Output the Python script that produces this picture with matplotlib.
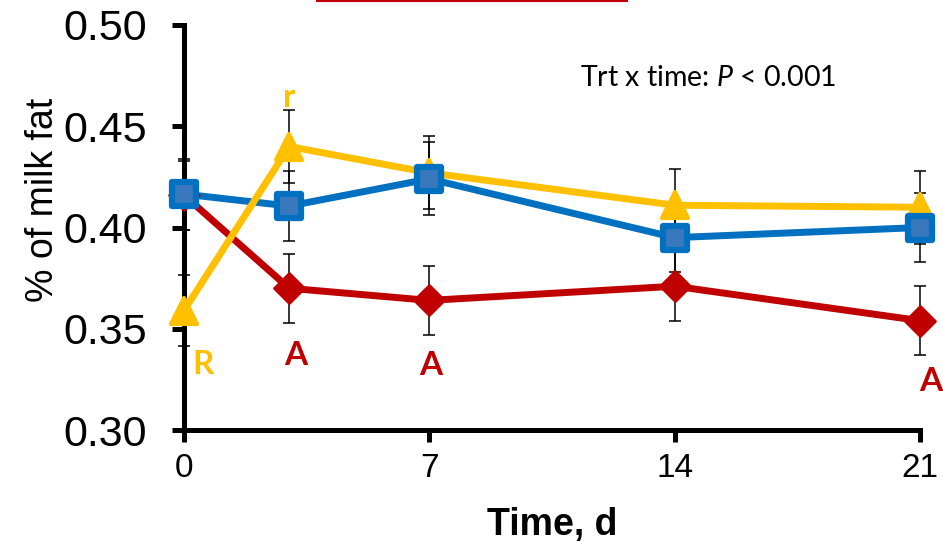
import matplotlib
matplotlib.use("Agg")
import matplotlib.pyplot as plt
from matplotlib.lines import Line2D
from matplotlib.markers import MarkerStyle

# data
days = [0, 3, 7, 14, 21]
blue_mean = [0.4165, 0.4106, 0.424, 0.395, 0.400]
blue_sem = [0.0175, 0.0175, 0.018, 0.017, 0.017]
yellow_mean = [0.359, 0.440, 0.427, 0.411, 0.410]
yellow_sem = [0.0175, 0.018, 0.018, 0.018, 0.018]
red_mean = [0.416, 0.370, 0.364, 0.371, 0.354]
red_sem = [0.017, 0.017, 0.017, 0.017, 0.017]

x_ticks = [0, 7, 14, 21]
y_ticks = [0.30, 0.35, 0.40, 0.45, 0.50]
y_ticklabels = ["0.30", "0.35", "0.40", "0.45", "0.50"]

# significance letters
letter_text = ["r", "R", "A", "A", "A"]
letter_x = [3.0, 0.55, 3.2, 7.05, 21.3]
letter_y = [0.464, 0.3325, 0.337, 0.332, 0.324]
letter_color = ["#FFC000", "#FFC000", "#C00000", "#C00000", "#C00000"]

BLUE, BLUE_FILL = "#0070C0", "#3A78BE"
YELLOW = "#FFC000"
RED = "#C00000"

plt.rcParams["mathtext.fontset"] = "custom"
plt.rcParams["mathtext.it"] = "Lato:italic"
plt.rcParams["mathtext.rm"] = "Lato"

fig = plt.figure(figsize=(9.43, 5.44), dpi=100)
ax = fig.add_axes([184 / 943, 1 - 430 / 544, 736 / 943, 405 / 544])

# lines (red under blue under yellow)
ax.plot(days, red_mean, color=RED, lw=5, zorder=2, solid_joinstyle="round")
ax.plot(days, blue_mean, color=BLUE, lw=5, zorder=3, solid_joinstyle="round")
ax.plot(days, yellow_mean, color=YELLOW, lw=5, zorder=4, solid_joinstyle="round")

# error bars
for m, s in [(red_mean, red_sem), (blue_mean, blue_sem), (yellow_mean, yellow_sem)]:
    ax.errorbar(days, m, yerr=s, fmt="none", ecolor="black", elinewidth=1.1,
                capsize=4.5, capthick=1.1, zorder=5, clip_on=False)

# markers on top
ax.plot(days, red_mean, ls="none", marker=MarkerStyle("D", joinstyle="round"), ms=15,
        mfc=RED, mec=RED, mew=2, zorder=6, clip_on=False)
ax.plot(days, yellow_mean, ls="none", marker=MarkerStyle("^", joinstyle="round"), ms=19,
        mfc=YELLOW, mec=YELLOW, mew=3, zorder=7, clip_on=False)
ax.plot(days, blue_mean, ls="none", marker=MarkerStyle("s", joinstyle="round"), ms=17.5,
        mfc=BLUE_FILL, mec=BLUE, mew=4.5, zorder=8, clip_on=False)

for t, x, y, c in zip(letter_text, letter_x, letter_y, letter_color):
    ax.text(x, y, t, color=c, fontsize=24, fontweight="bold", family="Lato",
            ha="center", va="center", zorder=9)

ax.text(0.712, 0.869, "Trt x time: $P$ < 0.001", transform=ax.transAxes,
        fontsize=20.5, family="Lato", ha="center", va="center")

ax.set_xlim(0, 21)
ax.set_ylim(0.30, 0.50)
ax.set_xticks(x_ticks)
ax.set_yticks(y_ticks)
ax.set_yticklabels(y_ticklabels)

for side in ["top", "right"]:
    ax.spines[side].set_visible(False)
for side in ["left", "bottom"]:
    ax.spines[side].set_linewidth(3.6)

ax.tick_params(axis="both", direction="out", length=8.5, width=3.6)
ax.tick_params(axis="y", labelsize=31, pad=18)
ax.tick_params(axis="x", labelsize=24, pad=8)
for lab in ax.get_xticklabels() + ax.get_yticklabels():
    lab.set_family("Liberation Sans")

ax.set_ylabel("% of milk fat", fontsize=27, family="Liberation Sans")
ax.yaxis.set_label_coords(-0.167, 0.568)
ax.set_xlabel("Time, d", fontsize=27, family="Liberation Sans", fontweight="bold")
ax.xaxis.set_label_coords(0.5, -0.19)

# red rule at the very top of the image
fig.add_artist(Line2D([317 / 943, 627 / 943], [0.998, 0.998], color=RED, lw=1.5,
                      transform=fig.transFigure))

fig.savefig("out.png", dpi=100)
